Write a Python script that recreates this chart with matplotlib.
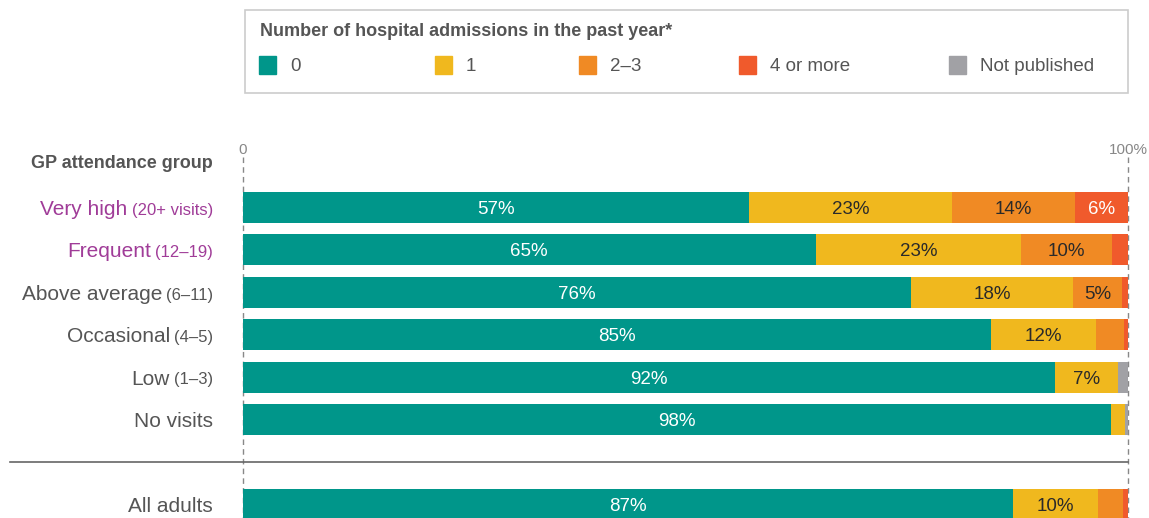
import matplotlib.pyplot as plt
from matplotlib.patches import Rectangle

plt.rcParams['font.family'] = ['Liberation Sans', 'DejaVu Sans']

groups = ['Very high', 'Frequent', 'Above average', 'Occasional', 'Low', 'No visits', 'All adults']
group_notes = ['(20+ visits)', '(12–19)', '(6–11)', '(4–5)', '(1–3)', '', '']
highlight = [True, True, False, False, False, False, False]
slots = [0, 1, 2, 3, 4, 5, 7]

series = ['0', '1', '2–3', '4 or more', 'Not published']
zero = [57.2, 64.7, 75.5, 84.5, 91.8, 98.1, 87.0]
one = [22.9, 23.2, 18.3, 11.9, 7.1, 1.6, 9.6]
two_three = [13.9, 10.3, 5.5, 3.1, 0.0, 0.0, 2.8]
four_plus = [6.0, 1.8, 0.7, 0.5, 0.0, 0.0, 0.6]
not_published = [0.0, 0.0, 0.0, 0.0, 1.1, 0.3, 0.0]

bar_labels = [
    ['57%', '23%', '14%', '6%', ''],
    ['65%', '23%', '10%', '', ''],
    ['76%', '18%', '5%', '', ''],
    ['85%', '12%', '', '', ''],
    ['92%', '7%', '', '', ''],
    ['98%', '', '', '', ''],
    ['87%', '10%', '', '', ''],
]

colors = ['#00968a', '#f0b81e', '#f08a24', '#f05a2c', '#a1a1a5']
label_colors = ['white', '#2a2a2a', '#2a2a2a', 'white', '#2a2a2a']
grey = '#555555'
purple = '#a03c98'

W, H = 1149, 518
fig = plt.figure(figsize=(W / 100, H / 100), dpi=100)
ax = fig.add_axes([0, 0, 1, 1])
px = 885 / 100.0          # pixels per percent
slot_px = 42.4            # pixels per row
ax.set_xlim(-243 / px, (W - 243) / px)
ax.set_ylim((H - 207.5) / slot_px, -207.5 / slot_px)
ax.axis('off')

# dashed guides at 0 and 100%
for xv in (0, 100):
    ax.plot([xv, xv], [(157 - 207.5) / slot_px, (H - 207.5) / slot_px],
            color='#888888', lw=1, ls=(0, (4, 3)), zorder=0)
ax.text(0, (149 - 207.5) / slot_px, '0', ha='center', va='center_baseline', fontsize=11, color='#888888')
ax.text(100, (149 - 207.5) / slot_px, '100%', ha='center', va='center_baseline', fontsize=11, color='#888888')

# stacked bars
data = [zero, one, two_three, four_plus, not_published]
left = [0.0] * len(groups)
for k, vals in enumerate(data):
    ax.barh(slots, vals, left=left, height=0.73, color=colors[k], edgecolor='none', zorder=2)
    for i in range(len(groups)):
        txt = bar_labels[i][k]
        if txt:
            ax.text(left[i] + vals[i] / 2, slots[i], txt, ha='center', va='center_baseline',
                    fontsize=13.5, color=label_colors[k], zorder=3)
    left = [a + b for a, b in zip(left, vals)]

# divider line
ax.plot([(10 - 243) / px, 100], [6, 6], color='#666666', lw=1.2, zorder=1)

# header
ax.text((213 - 243) / px, (162 - 207.5) / slot_px, 'GP attendance group', ha='right', va='center_baseline',
        fontsize=13, fontweight='bold', color=grey)

# category labels (main text + smaller note)
fig.canvas.draw()
renderer = fig.canvas.get_renderer()
xr = (213 - 243) / px
for i, g in enumerate(groups):
    c = purple if highlight[i] else grey
    if group_notes[i]:
        t = ax.text(xr, slots[i] + 0.03, group_notes[i], ha='right', va='center_baseline', fontsize=12, color=c)
        bb = t.get_window_extent(renderer)
        x_main = ax.transData.inverted().transform((bb.x0 - 4, 0))[0]
    else:
        x_main = xr
    ax.text(x_main, slots[i], g, ha='right', va='center_baseline', fontsize=15, color=c)

# legend box
ax.add_patch(Rectangle(((245 - 243) / px, (10 - 207.5) / slot_px), (1128 - 245) / px, 83 / slot_px,
                       fill=False, edgecolor='#cccccc', lw=1.2))
ax.text((260 - 243) / px, (30 - 207.5) / slot_px, 'Number of hospital admissions in the past year*',
        ha='left', va='center_baseline', fontsize=13, fontweight='bold', color=grey)
leg_x = [259, 435, 579, 739, 949]
for k, name in enumerate(series):
    ax.add_patch(Rectangle(((leg_x[k] - 243) / px, (56 - 207.5) / slot_px), 17 / px, 18 / slot_px,
                           color=colors[k]))
    ax.text((leg_x[k] + 31 - 243) / px, (65 - 207.5) / slot_px, name, ha='left', va='center_baseline',
            fontsize=13.5, color=grey)

fig.savefig('out.png', dpi=100)
